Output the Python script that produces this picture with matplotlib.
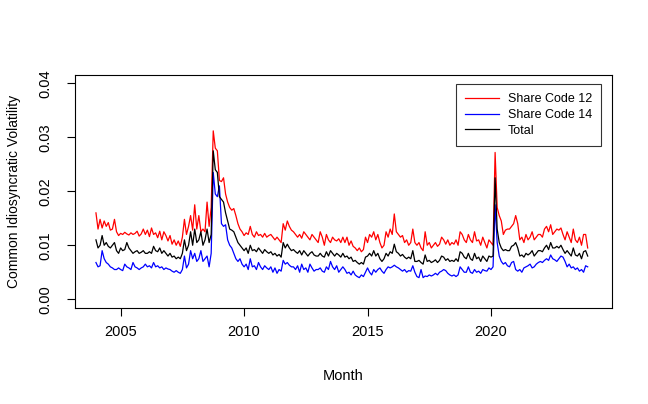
import numpy as np
import matplotlib
matplotlib.use("Agg")
import matplotlib.pyplot as plt

plt.rcParams['font.family'] = ['Liberation Sans', 'DejaVu Sans']

# monthly values, Jan 2004 - Dec 2023, in units of 1e-3
share12 = [
    16.0, 13.0, 14.8, 13.2, 14.5, 13.5, 14.2, 12.8, 13.0, 14.8, 12.5, 11.8,
    12.2, 12.0, 12.4, 12.1, 11.9, 12.3, 12.0, 12.2, 12.6, 11.7, 12.1, 13.0,
    12.0, 12.8, 11.6, 13.2, 12.0, 12.3, 11.4, 12.6, 11.0, 12.5, 11.8, 10.8,
    11.8, 10.2, 11.0, 10.0, 10.8, 9.8, 11.5, 14.8, 12.0, 13.5, 15.5, 12.8,
    17.5, 13.0, 15.5, 12.5, 13.0, 12.5, 18.0, 13.5, 17.0, 31.2, 28.0, 27.5,
    22.0, 21.8, 22.5, 19.5, 18.0, 17.0, 16.5, 16.8, 15.5, 14.0, 13.0, 12.5,
    11.8, 12.3, 12.0, 13.5, 12.0, 11.5, 12.5, 11.8, 12.0, 11.5, 12.2, 11.5,
    11.8, 12.0, 11.5, 11.0, 11.5, 11.0, 10.5, 14.0, 12.8, 14.5, 13.5, 12.8,
    12.5, 12.0, 11.5, 12.0, 11.3, 12.5, 12.0, 11.5, 11.0, 12.0, 11.5, 11.0,
    10.5, 12.5, 11.5, 10.0, 12.0, 11.0, 10.5, 11.5, 11.0, 10.8, 11.2, 10.5,
    11.5, 10.5, 11.5, 10.0, 10.8, 9.8, 9.5, 9.0, 9.5, 8.8, 9.2, 11.5,
    10.5, 12.0, 11.5, 12.5, 11.0, 12.0, 10.5, 9.5, 10.0, 12.5, 11.5, 13.0,
    12.0, 15.8, 12.5, 12.0, 11.5, 11.8, 10.5, 11.0, 10.0, 10.5, 13.0, 10.5,
    10.0, 10.5, 9.5, 9.0, 12.5, 10.0, 10.5, 9.5, 10.0, 10.5, 9.8, 10.2,
    11.5, 11.0, 10.2, 11.0, 10.0, 10.5, 10.2, 11.0, 10.0, 12.5, 12.0, 11.0,
    10.5, 12.0, 11.0, 10.5, 12.5, 10.8, 11.0, 10.0, 11.5, 10.5, 9.5, 11.0,
    10.5, 10.0, 27.2, 17.0, 15.5, 14.5, 12.0, 12.8, 13.0, 13.0, 13.5, 14.0,
    15.5, 14.0, 11.0, 11.5, 10.5, 12.0, 11.0, 11.5, 12.5, 11.0, 11.5, 12.0,
    12.0, 11.5, 13.0, 13.5, 12.5, 13.8, 12.0, 12.5, 13.0, 12.8, 13.2, 12.0,
    11.0, 12.5, 11.5, 10.5, 13.0, 11.0, 10.5, 11.5, 10.0, 12.0, 12.0, 9.5,
]
share14 = [
    6.8, 6.0, 6.2, 9.0, 7.5, 6.8, 6.5, 6.0, 5.8, 5.5, 5.5, 5.8,
    5.5, 5.3, 6.5, 6.0, 5.8, 5.5, 6.8, 6.0, 5.8, 5.5, 5.8, 6.0,
    6.5, 6.0, 6.2, 5.8, 6.8, 6.0, 6.2, 5.8, 6.0, 5.5, 5.8, 5.6,
    5.5, 5.2, 5.0, 5.3, 5.0, 4.8, 5.5, 8.0, 5.8, 6.5, 9.0, 7.5,
    8.5, 7.0, 7.5, 9.0, 7.0, 7.5, 8.0, 6.0, 8.5, 23.5, 19.5, 19.0,
    21.0, 14.0, 13.5, 13.8, 11.0, 10.0, 9.5, 8.5, 7.5, 7.0, 7.5, 6.5,
    6.0, 6.5, 5.5, 7.5, 6.0, 6.2, 5.5, 6.8, 6.0, 5.5, 6.2, 5.8,
    5.5, 6.0, 5.0, 5.8, 4.8, 5.5, 5.2, 7.2, 6.5, 6.8, 6.3, 6.0,
    6.0, 5.5, 6.2, 5.0, 6.5, 5.5, 5.8, 5.0, 6.5, 5.8, 5.2, 5.5,
    5.5, 5.8, 5.2, 5.0, 6.0, 5.5, 7.0, 6.0, 5.5, 6.2, 5.0, 5.5,
    6.0, 5.5, 4.8, 5.0, 4.5, 5.2, 4.5, 4.2, 4.0, 4.5, 4.2, 5.0,
    5.8, 5.0, 4.5, 5.5, 5.0, 5.5, 5.8, 5.2, 4.8, 5.5, 6.0, 5.8,
    6.0, 6.3, 6.0, 5.8, 5.5, 5.2, 5.5, 5.0, 5.3, 5.2, 6.2, 5.0,
    4.2, 4.0, 5.5, 4.0, 4.3, 4.2, 4.5, 4.3, 4.5, 4.8, 4.5, 5.0,
    5.2, 5.5, 5.3, 4.8, 4.5, 4.3, 4.5, 4.2, 4.5, 6.0, 5.5, 5.0,
    5.0, 6.0, 5.0, 4.8, 5.5, 5.0, 5.2, 4.8, 5.5, 5.3, 5.2, 5.8,
    5.5, 6.0, 17.5, 10.5, 8.0, 7.0, 6.5, 6.8, 6.2, 6.0, 6.8, 7.0,
    5.5, 5.2, 5.5, 5.0, 5.8, 6.0, 6.2, 6.5, 5.8, 6.0, 6.5, 6.8,
    7.0, 6.8, 7.2, 7.5, 7.2, 8.2, 7.5, 7.3, 7.0, 7.5, 8.0, 7.8,
    7.0, 6.0, 6.5, 5.8, 6.0, 5.5, 5.8, 5.2, 5.5, 5.0, 6.2, 6.0,
]
total = [
    11.0, 9.5, 10.0, 11.8, 10.0, 10.5, 9.8, 9.5, 10.0, 10.5, 9.0, 8.5,
    9.5, 9.0, 9.2, 10.5, 9.5, 9.0, 8.5, 8.8, 9.0, 8.5, 8.7, 9.0,
    8.5, 8.5, 8.8, 8.5, 9.8, 9.0, 8.8, 9.5, 8.5, 9.0, 8.5, 8.0,
    8.5, 7.8, 8.0, 7.5, 7.8, 7.5, 8.5, 11.0, 9.0, 10.0, 12.5, 10.0,
    13.0, 10.5, 11.0, 12.5, 10.0, 11.0, 13.0, 10.5, 12.0, 27.5, 24.0, 23.5,
    19.0, 18.5, 18.0, 16.0, 14.5, 13.0, 12.8, 12.5, 11.5, 10.5, 10.0, 9.5,
    9.0, 9.5, 8.5, 10.0, 9.0, 9.2, 8.8, 9.5, 9.0, 8.5, 9.2, 8.8,
    8.5, 8.8, 8.2, 8.5, 8.0, 8.3, 7.8, 10.5, 9.5, 10.2, 9.5, 9.0,
    9.2, 8.8, 8.5, 9.0, 8.2, 9.0, 8.5, 8.0, 8.5, 8.8, 8.2, 8.0,
    8.0, 8.5, 8.0, 7.8, 8.8, 8.0, 9.0, 8.5, 8.0, 8.5, 8.2, 7.8,
    8.5, 7.8, 8.0, 7.5, 7.8, 7.0, 7.2, 6.8, 6.5, 6.8, 6.5, 7.8,
    8.0, 8.5, 8.0, 9.0, 8.0, 8.5, 7.5, 7.0, 7.5, 8.5, 8.0, 8.8,
    8.5, 10.2, 8.8, 8.5, 8.0, 8.3, 7.8, 7.5, 7.8, 7.5, 9.0, 7.0,
    7.0, 7.2, 6.8, 6.5, 8.2, 7.0, 7.2, 6.8, 7.0, 7.3, 6.8, 7.2,
    8.0, 7.8, 7.2, 7.5, 7.0, 7.2, 7.0, 7.5, 7.0, 8.8, 8.5, 7.8,
    7.5, 8.5, 7.5, 7.2, 8.5, 7.5, 7.8, 7.0, 8.0, 7.5, 7.0, 8.0,
    7.8, 8.0, 22.5, 13.0, 10.5, 9.5, 9.0, 9.2, 9.0, 9.0, 9.8, 10.0,
    10.5, 9.5, 8.0, 8.2, 7.8, 8.5, 8.2, 8.5, 9.0, 8.0, 8.5, 9.0,
    9.0, 8.8, 9.5, 10.0, 9.2, 10.5, 9.5, 9.5, 9.8, 9.5, 10.0, 9.2,
    8.5, 9.0, 8.5, 8.0, 9.5, 8.2, 8.0, 8.5, 7.5, 8.8, 9.0, 8.0,
]

months = 2004 + np.arange(len(total)) / 12.0
s12 = np.array(share12) / 1000
s14 = np.array(share14) / 1000
tot = np.array(total) / 1000

fig = plt.figure(figsize=(6.48, 4.04), dpi=100)
ax = fig.add_axes([0.1157, 0.238, 0.8287, 0.577])

ax.plot(months, s12, color='red', lw=0.9, label='Share Code 12')
ax.plot(months, s14, color='blue', lw=0.9, label='Share Code 14')
ax.plot(months, tot, color='black', lw=0.9, label='Total')

ax.set_xlim(2003.15, 2024.9)
ax.set_ylim(-0.0016, 0.0416)
ax.set_xticks([2005, 2010, 2015, 2020])
ax.set_yticks([0.0, 0.01, 0.02, 0.03, 0.04])
ax.set_yticklabels(['0.00', '0.01', '0.02', '0.03', '0.04'], rotation=90, va='center')
ax.tick_params(direction='out', length=6, width=0.8, labelsize=10.5, pad=6)
ax.tick_params(axis='y', pad=10)
for sp in ax.spines.values():
    sp.set_linewidth(0.8)

ax.set_xlabel('Month', fontsize=10.5, labelpad=22)
ax.set_ylabel('Common Idiosyncratic Volatility', fontsize=10, labelpad=13)

leg = ax.legend(loc='upper right', bbox_to_anchor=(0.98, 0.961), borderaxespad=0,
                fontsize=9, frameon=True, fancybox=False, handlelength=2.7,
                borderpad=0.75, labelspacing=0.3, handletextpad=0.7)
leg.get_frame().set_edgecolor('black')
leg.get_frame().set_linewidth(0.8)

plt.savefig('out.png', dpi=100)
